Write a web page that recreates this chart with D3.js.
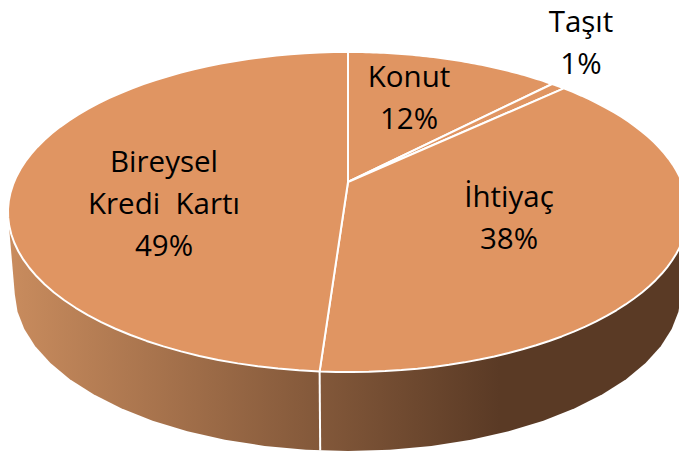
<!DOCTYPE html>
<html lang="en">
<head>
<meta charset="UTF-8">
<title>Kredi dağılımı</title>
<style>
  html, body { margin: 0; padding: 0; background: #fff; }
  svg { display: block; }
  text { font-family: "Open Sans", "Noto Sans", sans-serif; font-size: 29.5px; fill: #000; white-space: pre; text-anchor: middle; }
</style>
</head>
<body>
<svg width="679" height="453"></svg>
<script src="https://d3js.org/d3.v7.min.js"></script>
<script>
const categories = ["Konut", "Taşıt", "İhtiyaç", "Bireysel Kredi  Kartı"];
const values = [12.2, 0.8, 38.1, 48.9];
const labelLines = [["Konut"], ["Taşıt"], ["İhtiyaç"], ["Bireysel", "Kredi  Kartı"]];

const svg = d3.select("svg");

// tilted disc: apex of the pie sits above the centre of the ellipse
const apexX = 348, apexY = 182;
const tilt = 0.1875;
const x = d3.scaleLinear().domain([-1, 1]).range([apexX - 334, apexX + 334]);
const y = d3.scaleLinear().domain([-1, 1]).range([apexY + 154.4, apexY - 154.4]);

function project(a, shrink = 1, drop = 0) {
  const u = Math.sin(a), v = Math.cos(a), w = 1 + tilt * v;
  return [apexX + (x(u / w) - apexX) * shrink, y(v / w) + drop];
}

const pie = d3.pie().sort(null).value(d => d);
const arcs = pie(values);

const sampleAngles = (a0, a1) => d3.range(0, 61).map(i => a0 + (a1 - a0) * i / 60);
const line = d3.line();

// side wall
const grad = svg.append("defs").append("linearGradient")
    .attr("id", "side")
    .attr("gradientUnits", "userSpaceOnUse")
    .attr("x1", 8).attr("x2", 500).attr("y1", 0).attr("y2", 0);
grad.append("stop").attr("offset", 0).attr("stop-color", "#c98c5e");
grad.append("stop").attr("offset", 1).attr("stop-color", "#5a3a25");

const ring = sampleAngles(0, 2 * Math.PI);
const rimPoints = ring.map(a => project(a));
const lowPoints = ring.map(a => project(a, 0.98, 79));
svg.append("path")
    .attr("d", line(d3.polygonHull(rimPoints.concat(lowPoints))) + "Z")
    .attr("fill", "url(#side)");

// seam on the wall, at the edge between the last two slices
const seamAngle = arcs[3].startAngle;
svg.append("path")
    .attr("d", line([project(seamAngle), project(seamAngle, 0.98, 79)]))
    .attr("stroke", "#fff").attr("stroke-width", 2);

// top slices
svg.selectAll("path.slice")
  .data(arcs)
  .join("path")
    .attr("class", "slice")
    .attr("d", d => line([[apexX, apexY]].concat(sampleAngles(d.startAngle, d.endAngle).map(a => project(a)))) + "Z")
    .attr("fill", "#e09562")
    .attr("stroke", "#fff")
    .attr("stroke-width", 2)
    .attr("stroke-linejoin", "round");

// labels
const labelAnchor = [[409, 87], [581, 32], [509, 207], [164, 172]];
const lineGap = 42;
labelLines.forEach((lines, i) => {
  const rows = lines.concat(Math.round(values[i]) + "%");
  rows.forEach((t, j) => {
    svg.append("text")
        .attr("x", labelAnchor[i][0])
        .attr("y", labelAnchor[i][1] + j * lineGap)
        .text(t);
  });
});
</script>
</body>
</html>
